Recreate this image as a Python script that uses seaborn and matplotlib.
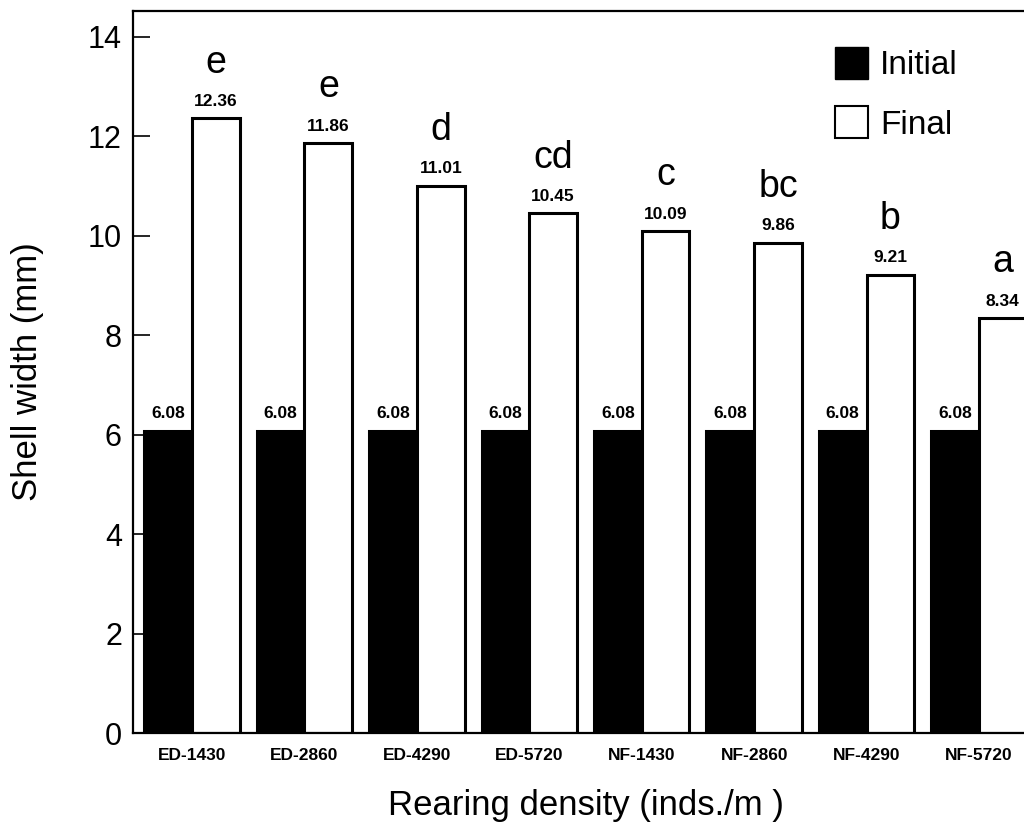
import matplotlib
matplotlib.use("Agg")
import matplotlib.pyplot as plt
from matplotlib.patches import Patch
import seaborn as sns
import pandas as pd

groups = ["ED-1430", "ED-2860", "ED-4290", "ED-5720",
          "NF-1430", "NF-2860", "NF-4290", "NF-5720"]
initial = [6.08, 6.08, 6.08, 6.08, 6.08, 6.08, 6.08, 6.08]
final = [12.36, 11.86, 11.01, 10.45, 10.09, 9.86, 9.21, 8.34]
letters = ["e", "e", "d", "cd", "c", "bc", "b", "a"]
yticks = [0, 2, 4, 6, 8, 10, 12, 14]

sns.set_style("ticks")
plt.rcParams["font.family"] = ["Liberation Sans", "DejaVu Sans"]
plt.rcParams["text.color"] = "black"
plt.rcParams["axes.labelcolor"] = "black"
plt.rcParams["xtick.color"] = "black"
plt.rcParams["ytick.color"] = "black"

df = pd.DataFrame({
    "group": groups * 2,
    "width": initial + final,
    "stage": ["Initial"] * len(groups) + ["Final"] * len(groups),
})

fig = plt.figure(figsize=(10.24, 8.22), dpi=100)
ax = fig.add_axes([133 / 1024, 1 - 733 / 822, 905 / 1024, 722 / 822])

sns.barplot(data=df, x="group", y="width", hue="stage",
            hue_order=["Initial", "Final"],
            palette={"Initial": "black", "Final": "white"},
            width=0.85, gap=0, edgecolor="black", linewidth=2.2,
            legend=False, ax=ax)

ax.set_xlim(-0.525, 7.525)
ax.set_ylim(0, 14.52)
ax.set_yticks(yticks)
ax.set_yticklabels([str(t) for t in yticks], fontsize=22)
ax.tick_params(axis="y", direction="in", length=12, width=1.2, pad=8,
               colors="black")
ax.tick_params(axis="x", length=0, pad=11, colors="black")
for lab in ax.get_xticklabels():
    lab.set_fontsize(12.5)
    lab.set_fontweight("bold")

for side in ["left", "top", "bottom", "right"]:
    ax.spines[side].set_linewidth(1.6)
    ax.spines[side].set_color("black")

ax.set_ylabel("Shell width (mm)", fontsize=25, color="black")
ax.set_xlabel("Rearing density (inds./m )", fontsize=25, color="black")
ax.yaxis.set_label_coords(-0.098, 0.5)
ax.xaxis.set_label_coords(0.5, -0.078)

for cont in ax.containers:
    ax.bar_label(cont, fmt="%.2f", padding=7, fontsize=12.5,
                 fontweight="bold", color="black")

final_cont = ax.containers[1]
for bar, letter in zip(final_cont, letters):
    ax.annotate(letter, (bar.get_x() + bar.get_width() / 2, bar.get_height()),
                xytext=(0, 33), textcoords="offset points",
                ha="center", va="baseline", fontsize=27, color="black")

handles = [Patch(facecolor="black", edgecolor="black", label="Initial"),
           Patch(facecolor="white", edgecolor="black", linewidth=1.5, label="Final")]
fig.legend(handles=handles, loc="upper left",
           bbox_to_anchor=(835 / 1024, 1 - 47 / 822),
           frameon=False, fontsize=24, borderpad=0, borderaxespad=0,
           handlelength=1.0, handleheight=1.1, handletextpad=0.35,
           labelspacing=0.75, labelcolor="black")

fig.savefig("out.png", dpi=100)
